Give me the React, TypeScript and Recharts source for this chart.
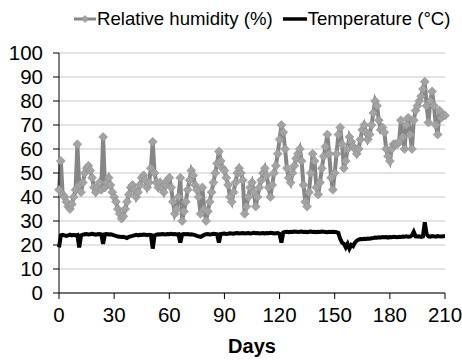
import { CartesianGrid, Legend, Line, LineChart, XAxis, YAxis } from "recharts";

// daily readings, day 0 .. 210
const humidity = [
  43, 55, 41, 40, 38, 36, 35, 37, 40, 43,
  62, 45, 42, 46, 50, 52, 53, 51, 48, 44,
  42, 44, 46, 43, 65, 44, 46, 48, 45, 42,
  40, 38, 35, 33, 31, 32, 35, 38, 41, 44,
  45, 43, 40, 42, 45, 48, 49, 47, 44, 46,
  52, 63, 50, 46, 44, 46, 44, 42, 45, 47,
  48, 44, 38, 33, 35, 40, 48, 30, 34, 38,
  43, 47, 51, 49, 45, 43, 40, 33, 44, 35,
  30, 34, 38, 42, 46, 50, 54, 59, 55, 52,
  51, 48, 45, 40, 38, 42, 46, 50, 52, 50,
  47, 33, 36, 40, 44, 46, 42, 36, 40, 44,
  47, 50, 52, 49, 44, 40, 45, 50, 53, 58,
  64, 70, 67, 60, 52, 48, 46, 50, 53, 56,
  58, 60, 55, 45, 38, 36, 42, 50, 58, 55,
  44, 41, 46, 52, 57, 61, 66, 58, 48, 43,
  50, 58, 66, 69, 62, 52, 55, 60, 65, 63,
  61, 60, 58, 60, 64, 68, 70, 67, 64, 66,
  70, 75, 80, 78, 72, 68, 69, 67, 60, 57,
  55, 60, 62, 62, 62, 63, 72, 65, 60, 70,
  73, 66, 60, 72, 76, 78, 80, 82, 85, 88,
  78, 71, 80, 84, 78, 70, 66, 76, 73, 74,
  74,
];

const temperature = [
  19, 24, 24.2, 24, 23.8, 24, 24.3, 24, 24.2, 24,
  24.2, 19, 24, 24.3, 24.5, 24.6, 24.4, 24.5, 24.7, 24.5,
  24.3, 24.5, 24.6, 24.4, 20.5, 24.5, 24.6, 24.4, 24.5, 24.3,
  24, 23.8, 23.5, 23.4, 23.3, 23.4, 23.2, 22.9, 23.4, 23.6,
  23.8, 24, 24.2, 24, 24.3, 24.2, 24.4, 24.3, 24.1, 24.3,
  24.2, 18.5, 24, 24.3, 24.5, 24.4, 24.6, 24.5, 24.4, 24.6,
  24.5, 24.7, 24.5, 24.6, 24.4, 24.5, 21, 24.4, 24.6, 24.5,
  24.6, 24.4, 24.5, 24.3, 24.1, 23.8, 23.6, 23.4, 23.8, 24.2,
  24.5, 24.6, 24.4, 24.5, 24.7, 24.6, 24.5, 21, 24.6, 24.7,
  24.8, 24.6, 24.7, 24.9, 24.8, 24.7, 24.9, 25, 24.8, 24.9,
  25, 24.8, 24.9, 25, 24.8, 24.9, 25.1, 24.9, 25, 24.8,
  24.9, 25, 24.8, 25, 24.9, 25.1, 25, 24.8, 24.9, 25,
  24.6, 21, 25.2, 25.4, 25.5, 25.3, 25.5, 25.4, 25.6, 25.5,
  25.4, 25.5, 25.6, 25.4, 25.5, 25.3, 25.5, 25.6, 25.4, 25.5,
  25.3, 25.5, 25.4, 25.6, 25.5, 25.4, 25.3, 25.5, 25.4, 25.5,
  25.4, 25.3, 25, 22.5, 21, 20.5, 19, 20.5, 18.5, 20,
  19.5, 21, 21.8, 22.3, 22.5, 22.4, 22.6, 22.5, 22.7, 22.6,
  22.8, 22.9, 23.1, 23, 23.2, 23.1, 23.3, 23.2, 23.3, 23.1,
  23.3, 23.2, 23.4, 23.3, 23.2, 23.4, 23.3, 23.5, 23.4, 23.6,
  23.4, 23.5, 24, 25.5, 23.6, 23.5, 23.6, 23.4, 23.6, 29.5,
  24.5, 23.6, 23.5, 23.7, 23.6, 23.5, 23.7, 23.6, 23.5, 23.6,
  23.6,
];

const xTicks = [0, 30, 60, 90, 120, 150, 180, 210];
const yTicks = [0, 10, 20, 30, 40, 50, 60, 70, 80, 90, 100];

const data = humidity.map((rh, day) => ({ day, rh, temp: temperature[day] }));

const FONT = "'Liberation Sans', Arial, sans-serif";
const RH_LINE = "#868686";
const RH_DOT = "#a3a3a3";

const Diamond = (props: any) => {
  const { cx, cy, key } = props;
  if (cx == null || cy == null) return null;
  const r = 4.5;
  return (
    <path
      key={key}
      d={`M${cx},${cy - r}L${cx + r},${cy}L${cx},${cy + r}L${cx - r},${cy}Z`}
      fill={RH_DOT}
      stroke={RH_LINE}
      strokeWidth={0.5}
    />
  );
};

function LegendBox() {
  return (
    <div
      style={{
        display: "flex",
        alignItems: "center",
        fontFamily: FONT,
        fontSize: 18.6,
        color: "#000",
        whiteSpace: "nowrap",
      }}
    >
      <svg width={22} height={10} style={{ marginRight: 1 }}>
        <line x1={0} y1={5} x2={22} y2={5} stroke={RH_LINE} strokeWidth={3} />
        <path d="M11,1.5L14.5,5L11,8.5L7.5,5Z" fill={RH_DOT} stroke={RH_LINE} strokeWidth={0.6} />
      </svg>
      <span>Relative humidity (%)</span>
      <svg width={24} height={10} style={{ marginLeft: 10, marginRight: 1 }}>
        <line x1={0} y1={5} x2={24} y2={5} stroke="#000" strokeWidth={3.5} />
      </svg>
      <span>Temperature (°C)</span>
    </div>
  );
}

export default function App() {
  return (
    <div style={{ position: "absolute", left: 0, top: 0, background: "#fff" }}>
      <LineChart
        width={462}
        height={361}
        data={data}
        margin={{ top: 31, right: 17, bottom: 8, left: 0 }}
      >
        <CartesianGrid horizontal vertical={false} stroke="#c8c8c8" strokeWidth={1} />
        <XAxis
          dataKey="day"
          type="number"
          domain={[0, 210]}
          ticks={xTicks}
          interval={0}
          height={60}
          tickSize={6}
          tickMargin={8}
          axisLine={{ stroke: "#000" }}
          tickLine={{ stroke: "#000" }}
          tick={{ fill: "#000", fontSize: 20.5, fontFamily: FONT }}
          label={{
            value: "Days",
            position: "insideBottom",
            offset: 0,
            fill: "#000",
            fontSize: 20,
            fontWeight: "bold",
            fontFamily: FONT,
          }}
        />
        <YAxis
          type="number"
          domain={[0, 100]}
          ticks={yTicks}
          interval={0}
          width={59}
          tickSize={6}
          tickMargin={10}
          axisLine={{ stroke: "#000" }}
          tickLine={{ stroke: "#000" }}
          tick={{ fill: "#000", fontSize: 20.5, fontFamily: FONT }}
        />
        <Legend
          verticalAlign="top"
          content={() => <LegendBox />}
          wrapperStyle={{ top: 8, left: 74, width: "auto" }}
        />
        <Line
          type="linear"
          dataKey="rh"
          stroke={RH_LINE}
          strokeWidth={4}
          dot={Diamond}
          activeDot={false}
          isAnimationActive={false}
        />
        <Line
          type="linear"
          dataKey="temp"
          stroke="#000"
          strokeWidth={4}
          dot={false}
          activeDot={false}
          isAnimationActive={false}
        />
      </LineChart>
    </div>
  );
}
